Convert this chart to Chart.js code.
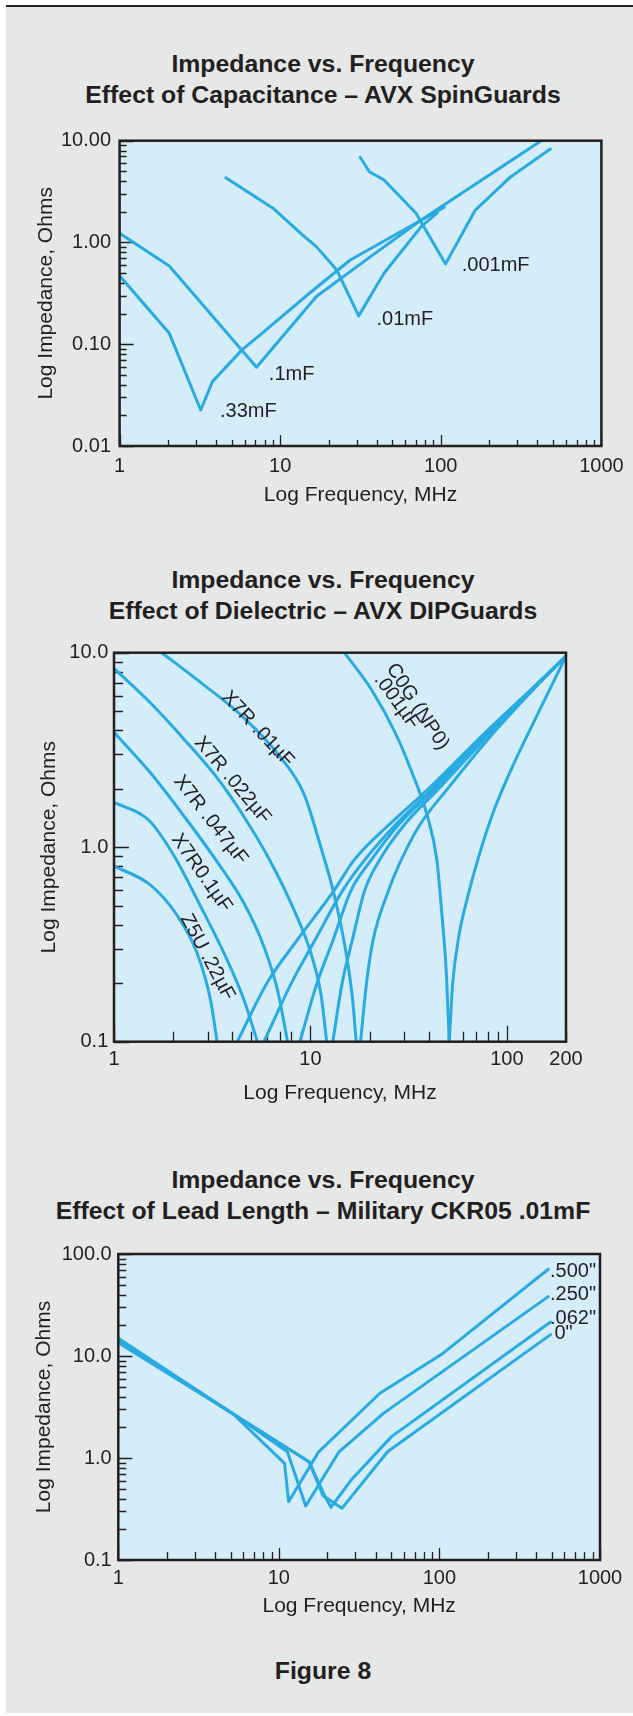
<!DOCTYPE html>
<html>
<head>
<meta charset="utf-8">
<script src="https://cdn.jsdelivr.net/npm/chart.js@4.4.1/dist/chart.umd.min.js"></script>
<style>
  html, body { margin: 0; padding: 0; background: #fff; }
  body { width: 633px; height: 1716px; position: relative; overflow: hidden;
         font-family: "Liberation Sans", Arial, sans-serif; color: #231f20; }
  #panel { position: absolute; left: 6px; top: 5px; width: 627px; height: 1706px;
           background: #e6e7e7; border-top: 2px solid #231f20; }
  .title { position: absolute; left: 0; width: 646px; text-align: center;
           font-weight: bold; font-size: 24.8px; line-height: 31px; }
  canvas { position: absolute; left: 0; }
</style>
</head>
<body>
<div id="panel"></div>

<div class="title" style="top:48px">Impedance vs. Frequency<br>Effect of Capacitance – AVX SpinGuards</div>
<canvas id="c1" width="633" height="400" style="top:120px"></canvas>

<div class="title" style="top:564px">Impedance vs. Frequency<br>Effect of Dielectric – AVX DIPGuards</div>
<canvas id="c2" width="633" height="490" style="top:630px"></canvas>

<div class="title" style="top:1164px">Impedance vs. Frequency<br>Effect of Lead Length – Military CKR05 .01mF</div>
<canvas id="c3" width="633" height="400" style="top:1230px"></canvas>

<div class="title" style="top:1655px">Figure 8</div>

<script>
const INK = '#231f20';
const BLUE = '#29abe2';
const PLOT_BG = '#d5ecf9';

// ---- chart 1: SpinGuards, effect of capacitance  [MHz, ohms]
const sgXLabels = [1, 10, 100, 1000];
const sg33 = [[1, 0.47], [2.04, 0.128], [3.2, 0.0226], [3.79, 0.043], [5.78, 0.088], [7.93, 0.133], [15.2, 0.317], [27.3, 0.673], [105, 2.22]];
const sg1 = [[1, 1.23], [2.04, 0.588], [7.12, 0.0594], [16.8, 0.294], [36.5, 0.726], [75.5, 1.66], [422, 10]];
const sg01 = [[4.59, 4.33], [9.16, 2.13], [13.8, 1.18], [16.8, 0.91], [22.5, 0.537], [30.8, 0.19], [44.3, 0.498], [75.5, 1.43], [95, 1.95]];
const sg001 = [[31.5, 6.87], [35.9, 4.96], [44.3, 4.11], [70.1, 1.94], [107, 0.615], [164, 2.08], [273, 4.43], [481, 8.29]];
const sgNames = ['.33mF', '.1mF', '.01mF', '.001mF'];
const sgNameAt = [[4.22, 0.0218], [8.5, 0.05], [39.8, 0.176], [135, 0.6]];

// ---- chart 2: DIPGuards, effect of dielectric (falling / rising branch of each part)
const dgXLabels = [1, 10, 100, 200];
const z5uDown = [[1, 0.8], [1.53, 0.64], [2.09, 0.448], [2.65, 0.285], [3.1, 0.164], [3.35, 0.1]];
const z5uUp = [[4.24, 0.1], [6, 0.2], [8.5, 0.33], [13.2, 0.6], [16.7, 0.86], [25, 1.3], [40, 2.0], [80, 4.0], [140, 6.8], [200, 9.6]];
const x7r100Down = [[1, 1.7], [1.5, 1.38], [2.0, 0.92], [2.75, 0.5], [3.77, 0.263], [4.59, 0.164], [5.37, 0.1]];
const x7r100Up = [[5.8, 0.1], [8, 0.2], [10.5, 0.33], [14.6, 0.6], [18.9, 0.86], [27, 1.3], [42, 2.0], [82, 4.0], [140, 6.8], [200, 9.6]];
const x7r047Down = [[1, 3.9], [1.54, 2.4], [2.29, 1.43], [3.3, 0.86], [4.59, 0.515], [5.8, 0.308], [6.8, 0.184], [7.65, 0.1]];
const x7r047Up = [[8.84, 0.1], [10.8, 0.2], [13, 0.33], [16.1, 0.6], [20.4, 0.86], [28, 1.3], [43, 2.0], [83, 4.0], [141, 6.8], [200, 9.6]];
const x7r022Down = [[1, 8.3], [1.54, 5.5], [2.29, 3.56], [3.42, 2.21], [4.7, 1.38], [6.2, 0.86], [8.26, 0.475], [10.06, 0.285], [11.3, 0.177], [12.1, 0.1]];
const x7r022Up = [[13, 0.1], [14.5, 0.2], [16.3, 0.33], [18.9, 0.6], [22.5, 0.86], [30, 1.3], [45, 2.0], [85, 4.0], [142, 6.8], [200, 9.6]];
const x7r010Down = [[1.75, 10], [2.8, 6.96], [4.52, 4.69], [7.0, 2.92], [9.24, 1.89], [11.3, 1.0], [13.2, 0.57], [15.2, 0.285], [16.4, 0.164], [17.1, 0.1]];
const x7r010Up = [[18, 0.1], [19.3, 0.2], [20.8, 0.33], [25, 0.6], [29, 0.86], [36, 1.3], [50, 2.0], [88, 4.0], [143, 6.8], [200, 9.6]];
const c0gDown = [[14.9, 10], [20.5, 6.43], [27.1, 3.85], [33, 2.4], [39.5, 1.43], [44, 0.86], [46.5, 0.475], [49.3, 0.216], [50.9, 0.1]];
const c0gUp = [[50.9, 0.1], [53, 0.2], [57, 0.35], [63, 0.55], [72, 0.9], [85, 1.5], [105, 2.5], [140, 4.6], [200, 9.6]];
const dgNames = ['X7R .01µF', 'X7R .022µF', 'X7R .047µF', 'X7R0.1µF', 'Z5U .22µF', 'C0G (NP0)', '.001µF'];
const dgNameAt = [[5.39, 4.05], [4.01, 2.21], [3.10, 1.38], [2.79, 0.737], [2.99, 0.272], [35.1, 5.28], [27.5, 5.6]];
const dgNameAngle = [47, 50, 52, 55, 62, 57, 54];

// ---- chart 3: CKR05 .01mF, effect of lead length
const ckXLabels = [1, 10, 100, 1000];
const lead500 = [[1, 14.9], [5.2, 2.7], [10.85, 0.887], [11.5, 0.373], [17.7, 1.15], [42.6, 4.31], [105, 10.6], [476, 70.8]];
const lead250 = [[1, 14.6], [5.2, 2.7], [11.3, 1.15], [14.7, 0.339], [23.7, 1.15], [44.8, 2.74], [476, 38.2]];
const lead062 = [[1, 14.2], [5.2, 2.7], [15.4, 0.92], [19.4, 0.418], [21.1, 0.329], [28.2, 0.608], [50.3, 1.62], [492, 21.5]];
const lead000 = [[1, 13.5], [5.2, 2.7], [15.4, 0.92], [18.8, 0.43], [24.7, 0.321], [47.5, 1.15], [492, 16.2]];
const ckNames = ['.500"', '.250"', '.062"', '0"'];
const ckNameAt = [[488, 68], [488, 40], [488, 23.5], [520, 16.5]];

const isPow10 = v => Math.abs(Math.log10(v) - Math.round(Math.log10(v))) < 1e-9;

function logTicks(min, max) {
  const out = [];
  for (let e = Math.floor(Math.log10(min) + 1e-9); Math.pow(10, e) <= max * 1.0001; e++) {
    for (let m = 1; m < 10; m++) {
      const v = +(m * Math.pow(10, e)).toPrecision(6);
      if (v >= min * 0.9999 && v <= max * 1.0001) out.push(v);
    }
  }
  return out;
}

const pts = a => a.map(([x, y]) => ({x, y}));

function line(data, smooth) {
  return {
    data: pts(data), borderColor: BLUE, borderWidth: 3, pointRadius: 0, fill: false,
    tension: 0, cubicInterpolationMode: smooth ? 'monotone' : 'default', clip: 0,
    borderCapStyle: 'round', borderJoinStyle: 'round'
  };
}

// background, inward tick marks and the frame of the plot area
const plotDeco = {
  id: 'plotDeco',
  beforeDatasetsDraw(chart, args, o) {
    const {ctx, chartArea: a, scales: {x, y}} = chart;
    ctx.save();
    ctx.fillStyle = PLOT_BG;
    ctx.fillRect(a.left, a.top, a.right - a.left, a.bottom - a.top);
    ctx.strokeStyle = INK;
    ctx.lineWidth = 1.3;
    ctx.beginPath();
    x.ticks.forEach(t => {
      const px = Math.round(x.getPixelForValue(t.value)) + 0.5;
      ctx.moveTo(px, a.bottom);
      ctx.lineTo(px, a.bottom - (isPow10(t.value) ? o.xMajor : o.xMinor));
    });
    y.ticks.forEach(t => {
      const py = Math.round(y.getPixelForValue(t.value)) + 0.5;
      ctx.moveTo(a.left, py);
      ctx.lineTo(a.left + (isPow10(t.value) ? o.yMajor : o.yMinor), py);
    });
    ctx.stroke();
    ctx.restore();
  },
  afterDatasetsDraw(chart) {
    const {ctx, chartArea: a} = chart;
    ctx.save();
    ctx.strokeStyle = INK;
    ctx.lineWidth = 2.5;
    ctx.strokeRect(a.left, a.top, a.right - a.left, a.bottom - a.top);
    ctx.restore();
  }
};

// curve names written next to the curves, placed in data coordinates
const curveText = {
  id: 'curveText',
  afterDatasetsDraw(chart, args, o) {
    const {ctx, scales: {x, y}} = chart;
    o.names.forEach((txt, i) => {
      ctx.save();
      ctx.fillStyle = INK;
      ctx.font = '20px "Liberation Sans", Arial, sans-serif';
      ctx.translate(x.getPixelForValue(o.at[i][0]), y.getPixelForValue(o.at[i][1]));
      ctx.rotate((o.angle ? o.angle[i] : 0) * Math.PI / 180);
      ctx.textAlign = o.align;
      ctx.textBaseline = 'middle';
      ctx.fillText(txt, 0, 0);
      ctx.restore();
    });
  }
};

Chart.defaults.font.family = '"Liberation Sans", Arial, sans-serif';
Chart.defaults.color = INK;

// box: where the plot sits on the page, plus where labels and titles go
function makeChart(id, box, sets, xr, yr, xLabels, yDigits, texts, ticksLen) {
  const lh = 21 * 1.2;
  const xH = box.xTitleY + lh / 2 - box.b;
  new Chart(document.getElementById(id), {
    type: 'line',
    data: {datasets: sets},
    plugins: [plotDeco, curveText],
    options: {
      responsive: false, animation: false, parsing: true,
      layout: {padding: {left: 0, top: box.t - box.top, right: 633 - box.r,
                         bottom: box.top + box.h - box.b - xH}},
      plugins: {legend: {display: false}, tooltip: {enabled: false},
                plotDeco: ticksLen, curveText: texts},
      scales: {
        x: {
          type: 'logarithmic', position: 'bottom', min: xr[0], max: xr[1],
          afterBuildTicks: s => { s.ticks = logTicks(xr[0], xr[1]).map(v => ({value: v})); },
          afterFit: s => { s.height = xH; },
          grid: {display: false, drawTicks: false}, border: {display: false},
          ticks: {autoSkip: false, maxRotation: 0, minRotation: 0, padding: box.xLabelY - box.b - 12,
                  font: {size: 20}, color: INK,
                  callback: v => xLabels.includes(v) ? String(v) : ''},
          title: {display: true, text: 'Log Frequency, MHz', font: {size: 21}, color: INK, padding: 0}
        },
        y: {
          type: 'logarithmic', position: 'left', min: yr[0], max: yr[1],
          afterBuildTicks: s => { s.ticks = logTicks(yr[0], yr[1]).map(v => ({value: v})); },
          afterFit: s => { s.width = box.l; },
          grid: {display: false, drawTicks: false}, border: {display: false},
          ticks: {autoSkip: false, padding: box.l - box.yLabelRight, font: {size: 20}, color: INK,
                  callback: v => isPow10(v) ? v.toFixed(yDigits) : ''},
          title: {display: true, text: 'Log Impedance, Ohms', font: {size: 21}, color: INK,
                  padding: {top: box.yTitleX - lh / 2, bottom: 0}}
        }
      }
    }
  });
}

makeChart('c1',
  {top: 120, h: 400, l: 119.6, r: 601.4, t: 140.7, b: 446, xLabelY: 466.7, xTitleY: 495, yLabelRight: 111, yTitleX: 46},
  [sg33, sg1, sg01, sg001].map(d => line(d, false)),
  [1, 1000], [0.01, 10], sgXLabels, 2,
  {names: sgNames, at: sgNameAt, align: 'left'},
  {xMinor: 6, xMajor: 11, yMinor: 7, yMajor: 14});

makeChart('c2',
  {top: 630, h: 490, l: 114, r: 566, t: 652.7, b: 1041.7, xLabelY: 1059.3, xTitleY: 1093.3, yLabelRight: 108.3, yTitleX: 49},
  [z5uDown, z5uUp, x7r100Down, x7r100Up, x7r047Down, x7r047Up, x7r022Down, x7r022Up,
   x7r010Down, x7r010Up, c0gDown, c0gUp].map(d => line(d, true)),
  [1, 200], [0.1, 10], dgXLabels, 1,
  {names: dgNames, at: dgNameAt, angle: dgNameAngle, align: 'center'},
  {xMinor: 10, xMajor: 16, yMinor: 9, yMajor: 15});

makeChart('c3',
  {top: 1230, h: 400, l: 118.3, r: 600, t: 1254, b: 1560, xLabelY: 1578.3, xTitleY: 1606.7, yLabelRight: 111.7, yTitleX: 44},
  [lead500, lead250, lead062, lead000].map(d => line(d, false)),
  [1, 1000], [0.1, 100], ckXLabels, 1,
  {names: ckNames, at: ckNameAt, align: 'left'},
  {xMinor: 8, xMajor: 12, yMinor: 8, yMajor: 14});
</script>
</body>
</html>
